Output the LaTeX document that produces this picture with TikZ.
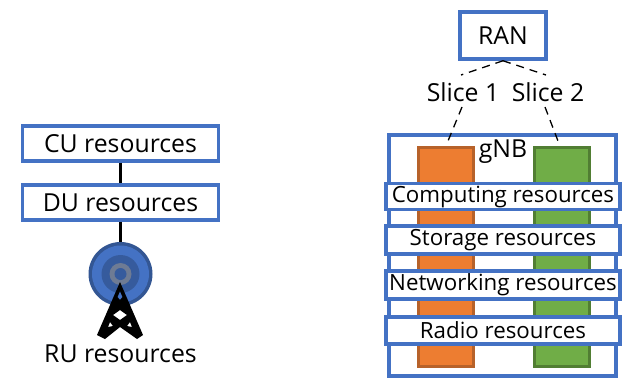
\documentclass[tikz,border=0pt]{standalone}
\usepackage{fontspec}
\setmainfont{Open Sans}
\usetikzlibrary{positioning}
\usetikzlibrary{calc}
\definecolor{boxblue}{HTML}{4472C4}
\definecolor{sliceorange}{HTML}{ED7D31}
\definecolor{sliceorangedark}{HTML}{B7622A}
\definecolor{slicegreen}{HTML}{70AD47}
\definecolor{slicegreendark}{HTML}{517E33}
\tikzset{
    resbox/.style={draw=boxblue, line width=3.5pt, fill=white, inner sep=0pt, font=\fontsize{22.3}{26}\selectfont},
    bigbox/.style={resbox, font=\fontsize{24.8}{28}\selectfont},
    plainlabel/.style={fill=white, inner sep=0pt, font=\fontsize{24.8}{28}\selectfont},
    slicebar/.style={line width=3pt, minimum width=55pt, minimum height=219pt, inner sep=0pt},
    sliceline/.style={dashed, dash pattern=on 8pt off 6pt, line width=1.3pt},
    linkline/.style={line width=3pt}
}
\begin{document}
\begin{tikzpicture}[x=1pt,y=-1pt]
    \useasboundingbox (0,0) rectangle (628,383);
    % left side
    \node[bigbox, minimum width=196pt, minimum height=35pt] (cu) at (120.5,143.5) {CU resources};
    \node[bigbox, minimum width=196pt, minimum height=35pt] (du) at (120.5,202.5) {DU resources};
    \node[circle, fill=boxblue!75!black, minimum size=64pt, inner sep=0pt] (antenna) at (120.5,274) {};
    \draw[linkline] (cu) -- (du);
    \draw[linkline] (du) -- (antenna);
    \fill[boxblue] (antenna) circle (28.5pt);
    \fill[boxblue!80!black] (antenna) circle (19pt);
    \fill[gray!70!boxblue] (antenna) circle (11pt);
    \fill[boxblue!80!black] (antenna) circle (6pt);
    \fill[black, even odd rule] (120,282) -- (143,335) -- (137,339) -- (120,327) -- (105,339) -- (97,335) -- cycle
        (120,291) -- (122.5,297) -- (120,300) -- (117.5,297) -- cycle
        (113,315) -- (120,310) -- (127,315) -- (120,320) -- cycle
        (108,327) -- (113,326) -- (110,322) -- cycle
        (132,327) -- (127,326) -- (130,322) -- cycle;
    \node[plainlabel, fill=none] (ru) at (120.5,354) {RU resources};
    % right side
    \node[bigbox, minimum width=86pt, minimum height=47pt] (ran) at (503,35.5) {RAN};
    \node[draw=boxblue, line width=3.5pt, minimum width=227pt, minimum height=241pt, inner sep=0pt] (gnb) at (502.5,255.5) {};
    \node[slicebar, draw=sliceorangedark, fill=sliceorange] (slice1bar) at (445.5,256.5) {};
    \node[slicebar, draw=slicegreendark, fill=slicegreen] (slice2bar) at (561.5,256.5) {};
    \node[plainlabel, fill=none] (gnblabel) at (503,152) {gNB};
    \node[resbox, minimum width=234pt, minimum height=26pt] (computing) at (503,196.5) {Computing resources};
    \node[resbox, minimum width=234pt, minimum height=28pt] (storage) at (503,240) {Storage resources};
    \node[resbox, minimum width=234pt, minimum height=28pt] (networking) at (503,285) {Networking resources};
    \node[resbox, minimum width=234pt, minimum height=27pt] (radio) at (503,330.5) {Radio resources};
    \node[plainlabel, fill=none] (slice1) at (463,92) {Slice 1};
    \node[plainlabel, fill=none] (slice2) at (548,92) {Slice 2};
    \coordinate (slice1top) at (461,75);
    \coordinate (slice2top) at (546,75);
    \coordinate (slice1low) at (462,107);
    \coordinate (slice2low) at (545,107);
    \coordinate (slice1end) at (448,141);
    \coordinate (slice2end) at (558,141);
    \draw[sliceline] (ran.south) -- (slice1top);
    \draw[sliceline] (ran.south) -- (slice2top);
    \draw[sliceline] (slice1low) -- (slice1end);
    \draw[sliceline] (slice2low) -- (slice2end);
\end{tikzpicture}
\end{document}
